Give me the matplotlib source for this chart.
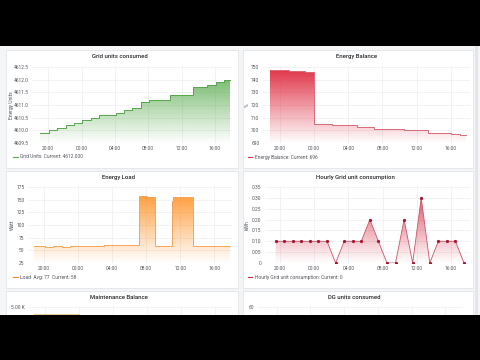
import numpy as np
import matplotlib
matplotlib.use('Agg')
import matplotlib.pyplot as plt
import matplotlib.colors as mcolors
from matplotlib.patches import Rectangle
from matplotlib.lines import Line2D

plt.rcParams['font.family'] = ['Roboto', 'DejaVu Sans']

# x axis is hours counted from midnight of the first day (24 = 00:00 next day)
tick_hours = [20, 24, 28, 32, 36, 40]
tick_labels = ['20:00', '00:00', '04:00', '08:00', '12:00', '16:00']

# Grid units consumed (step series)
grid_hours = [19.0, 20.1, 21.1, 22.1, 23.1, 24.1, 25.1, 26.1, 28.1, 29.1, 30.1,
              31.1, 32.1, 34.6, 37.4, 39.0, 40.1, 41.1, 41.8]
grid_units = [4609.9, 4610.0, 4610.1, 4610.2, 4610.3, 4610.4, 4610.5, 4610.6,
              4610.7, 4610.8, 4610.9, 4611.1, 4611.2, 4611.4, 4611.7, 4611.8,
              4611.9, 4612.0, 4612.0]

# Energy balance
bal_hours = [18.83, 21.05, 22.97, 23.98, 26.05, 28.98, 31.0, 34.57, 37.38, 40.0, 41.1, 41.8]
bal_vals = [748, 747, 746, 705, 704, 703, 701, 700, 698, 697, 696, 696]

# Energy load
load_hours = [18.86, 20.1, 21.1, 22.08, 23.06, 27.1, 30.9, 31.1, 32.1, 33.06,
              35.02, 35.2, 37.45, 41.9]
load_vals = [58.6, 56.6, 58.6, 56, 58, 60.5, 61, 157, 155, 58, 147, 155, 58, 58]

# Hourly grid unit consumption
hourly_hours = [19.5, 20.5, 21.5, 22.5, 23.5, 24.5, 25.5, 26.5, 27.5, 28.5, 29.5, 30.5,
                31.5, 32.5, 33.5, 34.5, 35.5, 36.5, 37.5, 38.5, 39.5, 40.5, 41.5]
hourly_vals = [0.1, 0.1, 0.1, 0.1, 0.1, 0.1, 0.1, 0, 0.1, 0.1, 0.1, 0.2,
               0.1, 0, 0, 0.2, 0, 0.3, 0, 0.1, 0.1, 0.1, 0]

# Maintenance balance (only the top is visible)
maint_hours = [18.8, 24.0, 42.0]
maint_vals = [4540, 3500, 3500]

W, H = 480, 360
fig = plt.figure(figsize=(4.8, 3.6), dpi=100)
fig.patch.set_facecolor('#f4f5f6')

TICK_C = '#50545c'
TITLE_C = '#25272b'
GRID_C = '#ebedef'


def px(x0, y0, x1, y1):
    return [x0 / W, 1 - y1 / H, (x1 - x0) / W, (y1 - y0) / H]


def panel(x0, y0, x1, y1, title, tx):
    fig.add_artist(Rectangle((x0 / W, 1 - y1 / H), (x1 - x0) / W, (y1 - y0) / H,
                             transform=fig.transFigure, facecolor='white',
                             edgecolor='#e2e4e7', lw=0.6, zorder=-5))
    fig.text(tx / W, 1 - (y0 + 6.5) / H, title, ha='center', va='center',
             fontsize=4.3, color=TITLE_C, fontweight='medium')


def make_ax(box, xlim, ylim, yticks, fmt, ylabel=None, ylab_x=None, xlabels=True):
    ax = fig.add_axes(px(*box))
    ax.set_facecolor('none')
    ax.set_xlim(xlim)
    ax.set_ylim(ylim)
    ax.set_xticks(tick_hours)
    ax.set_xticklabels(tick_labels)
    ax.set_yticks(yticks)
    ax.set_yticklabels([fmt(v) for v in yticks])
    ax.tick_params(length=0, labelsize=3.5, colors=TICK_C, pad=2.5)
    if not xlabels:
        ax.tick_params(labelbottom=False)
    ax.grid(True, color=GRID_C, lw=0.5)
    ax.set_axisbelow(True)
    for s in ax.spines.values():
        s.set_visible(False)
    if ylabel:
        cy = (box[1] + box[3]) / 2
        fig.text(ylab_x / W, 1 - cy / H, ylabel, rotation=90, ha='center',
                 va='center', fontsize=3.6, color=TICK_C)
    return ax


def grad_fill(ax, x, y, color, step=True, top_alpha=0.9):
    xlim, ylim = ax.get_xlim(), ax.get_ylim()
    fill = ax.fill_between(x, y, ylim[0], step='post' if step else None,
                           facecolor='none', lw=0)
    path = fill.get_paths()[0]
    img = np.zeros((256, 1, 4))
    img[:, :, :3] = mcolors.to_rgb(color)
    img[:, 0, 3] = np.linspace(top_alpha, 0.0, 256)
    im = ax.imshow(img, aspect='auto', origin='upper', zorder=1,
                   extent=[xlim[0], xlim[1], ylim[0], ylim[1]])
    im.set_clip_path(path, transform=ax.transData)
    ax.set_xlim(xlim)
    ax.set_ylim(ylim)


def legend(x, y, text, color):
    fig.add_artist(Line2D([x / W, (x + 4.5) / W], [1 - y / H, 1 - y / H],
                          transform=fig.transFigure, color=color, lw=0.8))
    fig.text((x + 7) / W, 1 - y / H, text, ha='left', va='center',
             fontsize=3.5, color=TICK_C)


# ---- panel 1: Grid units consumed
GREEN = '#56a64b'
panel(6, 50, 238, 168, 'Grid units consumed', 120)
ax1 = make_ax((32, 67, 232, 143), (18.05, 42.05), (4609.5, 4612.5),
              [4609.5, 4610.0, 4610.5, 4611.0, 4611.5, 4612.0, 4612.5],
              lambda v: f'{v:.1f}', 'Energy Units', 12)
grad_fill(ax1, grid_hours, grid_units, '#5aaa4e', top_alpha=0.95)
ax1.plot(grid_hours, grid_units, drawstyle='steps-post', color=GREEN, lw=0.7, zorder=3)
legend(13, 157, 'Grid Units: Current: 4612.000', GREEN)

# ---- panel 2: Energy Balance
RED = '#e02f44'
panel(243, 50, 473, 168, 'Energy Balance', 357)
ax2 = make_ax((263, 67, 470, 143), (18.0, 42.26), (690, 750),
              [690, 700, 710, 720, 730, 740, 750], lambda v: f'{v:d}', '%', 247)
grad_fill(ax2, bal_hours, bal_vals, RED, top_alpha=1.0)
ax2.plot(bal_hours, bal_vals, drawstyle='steps-post', color='#d86a78', lw=0.7, zorder=3)
legend(248, 157, 'Energy Balance: Current: 696', RED)

# ---- panel 3: Energy Load
ORANGE = '#ff8c1a'
panel(6, 171, 238, 288, 'Energy Load', 118)
ax3 = make_ax((28, 187, 232, 263), (18.12, 42.08), (25, 175),
              [25, 50, 75, 100, 125, 150, 175], lambda v: f'{v:d}', 'Watt', 12)
grad_fill(ax3, load_hours, load_vals, ORANGE, top_alpha=0.95)
ax3.plot(load_hours, load_vals, drawstyle='steps-post', color='#f5a55a', lw=0.7, zorder=3)
legend(13, 277, 'Load  Avg: 77  Current: 58', ORANGE)

# ---- panel 4: Hourly Grid unit consumption
DRED = '#c4263d'
panel(243, 171, 473, 288, 'Hourly Grid unit consumption', 355)
ax4 = make_ax((265, 187, 470, 263), (18.25, 42.2), (0, 0.35),
              [0, 0.05, 0.10, 0.15, 0.20, 0.25, 0.30, 0.35],
              lambda v: '0' if v == 0 else f'{v:.2f}', 'kWh', 247)
grad_fill(ax4, hourly_hours, hourly_vals, '#d8364d', step=False, top_alpha=0.95)
ax4.plot(hourly_hours, hourly_vals, color='#c9546a', lw=0.6, zorder=3,
         marker='o', ms=1.3, mfc='#a8142e', mec='#a8142e')
legend(248, 277, 'Hourly Grid unit consumption: Current: 0', DRED)

# ---- panel 5: Maintenance Balance (cut off by the video bar)
panel(6, 291, 238, 340, 'Maintenance Balance', 119)
ax5 = make_ax((28, 307, 232, 383), (18.05, 42.05), (0, 5000),
              [5000], lambda v: '5.00 K', xlabels=False)
grad_fill(ax5, maint_hours, maint_vals, '#e0a860', top_alpha=0.55)
ax5.plot(maint_hours, maint_vals, drawstyle='steps-post', color='#e8c890', lw=0.6, zorder=3)

# ---- panel 6: DG units consumed (cut off by the video bar)
panel(243, 291, 473, 340, 'DG units consumed', 354)
ax6 = make_ax((258, 307, 463, 383), (17.8, 42.1), (0, 60), [60], lambda v: f'{v:d}',
              xlabels=False)

# scrollbar + black video bars
fig.add_artist(Rectangle((475 / W, 1 - 315 / H), 3 / W, 270 / H, transform=fig.transFigure,
                         facecolor='#e3e5e8', lw=0, zorder=20))
fig.add_artist(Rectangle((0, 1 - 46 / H), 1, 46 / H, transform=fig.transFigure,
                         facecolor='black', lw=0, zorder=30))
fig.add_artist(Rectangle((0, 0), 1, 45 / H, transform=fig.transFigure,
                         facecolor='black', lw=0, zorder=30))

fig.savefig('out.png', dpi=100, facecolor=fig.get_facecolor())
